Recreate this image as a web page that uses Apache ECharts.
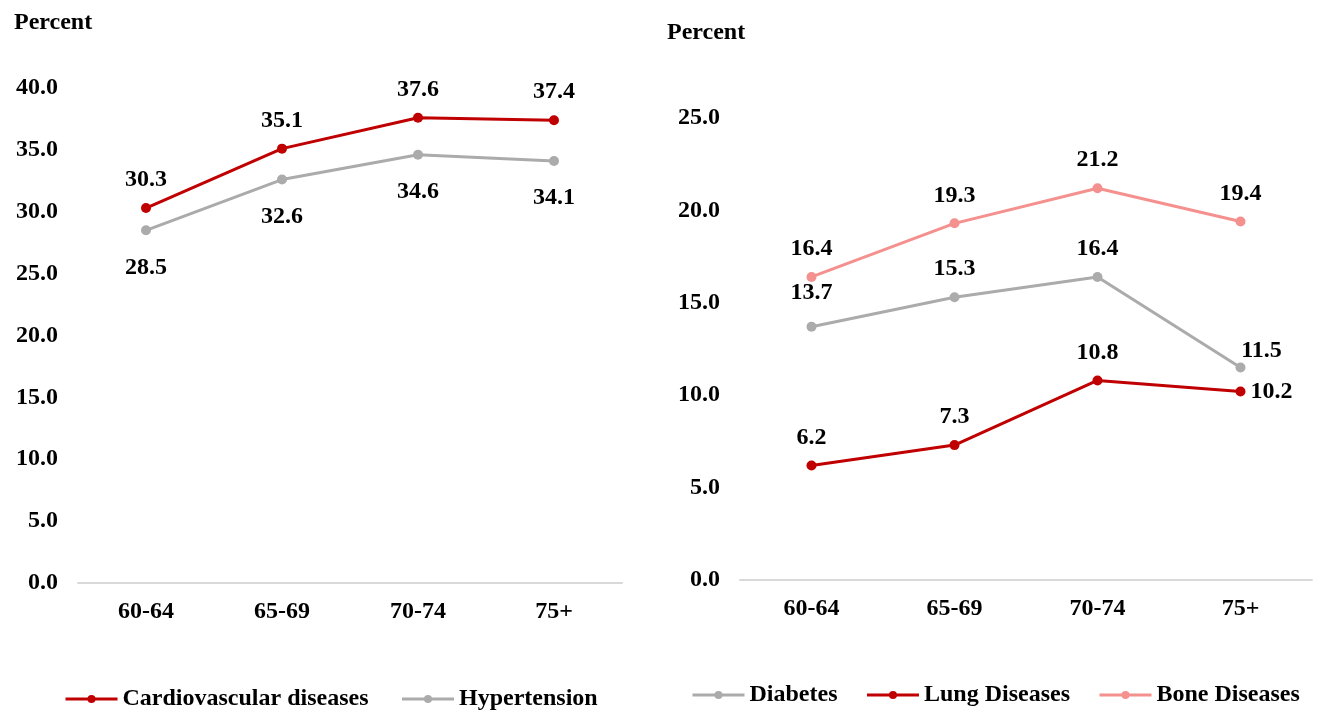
<!DOCTYPE html>
<html>
<head>
<meta charset="utf-8">
<script src="https://cdn.jsdelivr.net/npm/echarts@6/dist/echarts.min.js"></script>
<style>
html,body{margin:0;padding:0;background:#fff;}
#chart{width:1318px;height:711px;}
</style>
</head>
<body>
<div id="chart"></div>
<script>
const categories = ['60-64', '65-69', '70-74', '75+'];
const leftTicks = [0, 5, 10, 15, 20, 25, 30, 35, 40];
const rightTicks = [0, 5, 10, 15, 20, 25];
const cardiovascular = [30.3, 35.1, 37.6, 37.4];
const hypertension = [28.5, 32.6, 34.6, 34.1];
const diabetes = [13.7, 15.3, 16.4, 11.5];
const lung = [6.2, 7.3, 10.8, 10.2];
const bone = [16.4, 19.3, 21.2, 19.4];

const FONT = '"Liberation Serif", "Times New Roman", serif';
const FS = 24;
const RED = '#C00000', GRAY = '#ABABAB', PINK = '#F4908E';
const TXT = { fontFamily: FONT, fontSize: FS, fontWeight: 'bold', color: '#000' };

const chart = echarts.init(document.getElementById('chart'));

function lbl(pos, dist, extra) {
  return Object.assign({
    show: true, position: pos, distance: dist,
    formatter: p => Number(p.value).toFixed(1)
  }, TXT, extra || {});
}
function lineSeries(name, data, color, xi, yi, label, itemLabels) {
  return {
    name, type: 'line', xAxisIndex: xi, yAxisIndex: yi,
    data: data.map((v, i) => (itemLabels && itemLabels[i]) ? { value: v, label: itemLabels[i] } : v),
    symbol: 'circle', symbolSize: 10, color,
    lineStyle: { width: 3, color }, itemStyle: { color },
    label, animation: false, z: 3
  };
}

function yAxis(gi, ticks) {
  return {
    type: 'value', gridIndex: gi, min: ticks[0], max: ticks[ticks.length - 1],
    interval: ticks[1] - ticks[0],
    axisLine: { show: false }, axisTick: { show: false }, splitLine: { show: false },
    axisLabel: Object.assign({ margin: 20, formatter: v => v.toFixed(1) }, TXT)
  };
}
function xAxis(gi) {
  return {
    type: 'category', gridIndex: gi, data: categories, boundaryGap: true,
    axisLine: { show: true, lineStyle: { color: '#D9D9D9', width: 2 } },
    axisTick: { show: false },
    axisLabel: Object.assign({ margin: 17 }, TXT)
  };
}

const option = {
  backgroundColor: '#fff',
  animation: false,
  title: [
    { text: 'Percent', left: 9, top: 6, textStyle: TXT },
    { text: 'Percent', left: 662, top: 16, textStyle: TXT }
  ],
  grid: [
    { left: 78, width: 544, top: 88, bottom: 128 },
    { left: 740, width: 572, top: 118, bottom: 131 }
  ],
  xAxis: [xAxis(0), xAxis(1)],
  yAxis: [yAxis(0, leftTicks), yAxis(1, rightTicks)],
  legend: [
    {
      data: ['Cardiovascular diseases', 'Hypertension'],
      left: 59, top: 682, itemWidth: 52, itemHeight: 10, itemGap: 32,
      lineStyle: { width: 3 },
      textStyle: TXT
    },
    {
      data: ['Diabetes', 'Lung Diseases', 'Bone Diseases'],
      left: 686, top: 678, itemWidth: 52, itemHeight: 10, itemGap: 28,
      lineStyle: { width: 3 },
      textStyle: TXT
    }
  ],
  series: [
    lineSeries('Cardiovascular diseases', cardiovascular, RED, 0, 0, lbl('top', 11)),
    lineSeries('Hypertension', hypertension, GRAY, 0, 0, lbl('bottom', 20)),
    lineSeries('Diabetes', diabetes, GRAY, 1, 1, lbl('top', 11),
      [lbl('top', 17), null, null, lbl('top', 11, { offset: [21, 11] })]),
    lineSeries('Lung Diseases', lung, RED, 1, 1, lbl('top', 11),
      [null, null, null, lbl('right', 5)]),
    lineSeries('Bone Diseases', bone, PINK, 1, 1, lbl('top', 11))
  ]
};
chart.setOption(option);
</script>
</body>
</html>
